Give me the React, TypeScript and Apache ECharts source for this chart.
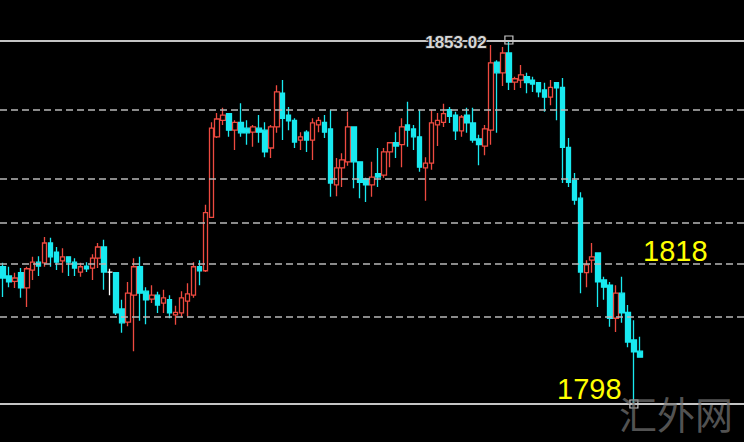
import React, { useEffect, useRef } from "react";
import * as echarts from "echarts";

// 125 slots on the time axis; the first 108 hold candles, the rest are empty space on the right
const categories: string[] = Array.from({ length: 125 }, (_, i) => `${i + 1}`);

// [open, close, low, high]
const candles: number[][] = [
  [1818.8, 1817.1, 1814.2, 1819.4],
  [1817.4, 1816.5, 1815.7, 1818.8],
  [1816.6, 1817.1, 1815.6, 1817.9],
  [1817.9, 1815.6, 1814.1, 1818.6],
  [1815.6, 1818.5, 1812.7, 1818.8],
  [1818.3, 1819.5, 1816.8, 1820.3],
  [1819.5, 1818.9, 1817.4, 1820.4],
  [1819.4, 1822.4, 1818.8, 1823.3],
  [1822.4, 1820.3, 1818.8, 1823.2],
  [1821.0, 1819.5, 1818.3, 1821.8],
  [1819.7, 1820.3, 1817.9, 1821.6],
  [1820.3, 1819.5, 1817.4, 1820.4],
  [1819.5, 1818.6, 1817.4, 1820.1],
  [1818.0, 1818.8, 1817.3, 1819.4],
  [1818.9, 1818.5, 1818.0, 1819.5],
  [1818.6, 1820.1, 1816.8, 1820.7],
  [1820.1, 1821.8, 1818.6, 1822.4],
  [1821.8, 1818.0, 1815.3, 1822.9],
  [1818.0, 1818.0, 1814.5, 1818.5],
  [1817.9, 1811.8, 1811.5, 1818.0],
  [1812.4, 1810.3, 1808.8, 1813.8],
  [1810.4, 1814.8, 1809.8, 1816.5],
  [1814.5, 1818.8, 1806.0, 1820.1],
  [1818.8, 1814.8, 1810.6, 1820.3],
  [1815.1, 1813.8, 1810.1, 1815.7],
  [1813.9, 1814.5, 1813.3, 1816.0],
  [1814.5, 1813.0, 1811.8, 1815.0],
  [1813.3, 1814.1, 1811.8, 1815.3],
  [1813.8, 1811.8, 1811.0, 1814.5],
  [1811.5, 1811.9, 1810.0, 1812.9],
  [1811.8, 1814.1, 1811.2, 1815.1],
  [1813.6, 1814.7, 1811.3, 1816.3],
  [1814.5, 1818.8, 1814.1, 1819.5],
  [1818.8, 1818.2, 1816.0, 1819.8],
  [1818.2, 1827.0, 1818.0, 1828.2],
  [1826.3, 1839.8, 1826.2, 1840.7],
  [1838.5, 1841.2, 1838.3, 1842.1],
  [1841.0, 1841.8, 1840.3, 1842.9],
  [1842.0, 1839.5, 1838.5, 1842.1],
  [1839.5, 1840.7, 1836.5, 1841.0],
  [1840.7, 1839.1, 1838.5, 1843.6],
  [1839.8, 1839.1, 1837.3, 1841.0],
  [1839.2, 1840.0, 1837.0, 1840.3],
  [1839.8, 1839.2, 1837.6, 1841.8],
  [1839.5, 1836.2, 1835.4, 1840.7],
  [1836.8, 1840.0, 1835.3, 1840.3],
  [1840.0, 1845.3, 1839.1, 1846.3],
  [1845.1, 1841.3, 1838.0, 1847.1],
  [1841.8, 1840.9, 1839.5, 1843.0],
  [1841.0, 1837.7, 1836.8, 1841.3],
  [1838.0, 1838.5, 1836.5, 1839.2],
  [1839.2, 1838.0, 1836.2, 1839.5],
  [1838.0, 1840.6, 1835.0, 1841.3],
  [1840.3, 1841.0, 1839.2, 1841.5],
  [1840.7, 1839.2, 1838.3, 1841.8],
  [1839.7, 1831.5, 1829.4, 1842.6],
  [1831.2, 1833.8, 1829.5, 1835.3],
  [1833.8, 1835.0, 1830.9, 1836.0],
  [1834.7, 1840.0, 1834.1, 1842.3],
  [1840.0, 1834.7, 1830.7, 1840.1],
  [1834.7, 1831.6, 1829.2, 1834.8],
  [1832.1, 1831.2, 1828.6, 1832.3],
  [1831.2, 1832.4, 1829.4, 1834.7],
  [1832.9, 1832.4, 1830.9, 1836.8],
  [1832.7, 1836.2, 1832.3, 1836.8],
  [1836.2, 1837.6, 1833.9, 1837.7],
  [1837.6, 1837.1, 1835.3, 1839.2],
  [1837.3, 1840.0, 1833.9, 1841.3],
  [1840.3, 1839.5, 1837.0, 1843.8],
  [1839.7, 1838.5, 1836.5, 1840.3],
  [1838.5, 1833.9, 1833.2, 1842.6],
  [1833.8, 1834.5, 1828.8, 1835.4],
  [1834.5, 1840.6, 1833.5, 1842.6],
  [1840.3, 1841.0, 1837.1, 1842.1],
  [1840.7, 1842.0, 1840.0, 1843.5],
  [1842.6, 1841.6, 1840.6, 1843.0],
  [1841.8, 1839.4, 1838.0, 1842.3],
  [1839.4, 1841.5, 1838.5, 1841.8],
  [1841.8, 1840.6, 1839.1, 1842.9],
  [1840.6, 1838.0, 1837.6, 1842.9],
  [1838.2, 1837.3, 1834.2, 1838.8],
  [1837.1, 1839.7, 1835.7, 1840.3],
  [1839.5, 1849.7, 1837.3, 1852.4],
  [1849.8, 1848.2, 1839.1, 1850.1],
  [1848.2, 1851.2, 1846.2, 1852.1],
  [1851.2, 1846.8, 1845.6, 1853.02],
  [1846.8, 1847.3, 1845.6, 1847.6],
  [1847.1, 1847.9, 1845.9, 1849.4],
  [1847.6, 1846.7, 1845.1, 1848.2],
  [1847.1, 1846.5, 1845.3, 1847.6],
  [1846.7, 1845.3, 1844.5, 1846.8],
  [1845.6, 1844.5, 1842.3, 1846.7],
  [1844.5, 1846.0, 1843.3, 1847.1],
  [1846.7, 1845.9, 1841.0, 1846.8],
  [1846.0, 1836.9, 1831.5, 1847.4],
  [1836.9, 1831.6, 1830.9, 1838.3],
  [1831.9, 1828.9, 1828.2, 1833.0],
  [1829.2, 1818.0, 1814.8, 1830.1],
  [1817.9, 1819.1, 1815.7, 1819.8],
  [1819.8, 1820.3, 1817.9, 1822.4],
  [1820.9, 1816.5, 1812.7, 1821.0],
  [1816.8, 1815.7, 1813.8, 1817.3],
  [1816.0, 1811.0, 1809.7, 1816.5],
  [1811.0, 1814.8, 1808.9, 1816.0],
  [1814.8, 1811.8, 1810.3, 1817.3],
  [1811.9, 1807.4, 1806.6, 1813.0],
  [1807.7, 1805.9, 1798.0, 1810.7],
  [1806.0, 1805.1, 1805.0, 1808.2],
];

// horizontal levels
const dashedLevels: number[] = [1842.56, 1832.1, 1825.51, 1819.21, 1811.18];
const highValue = 1853.02;
const lowValue = 1798;
const highIndex = 85;
const lowIndex = 106;

const annotations = [
  { text: "1818", value: 1821.2, x: 643 },
  { text: "1798", value: 1800.3, x: 557 },
];

const UP = "#ee4a40";
const DOWN = "#19e9f0";

export default function App() {
  const ref = useRef<HTMLDivElement>(null);

  useEffect(() => {
    if (!ref.current) return;
    const chart = echarts.init(ref.current, undefined, { renderer: "svg" });

    const option: any = {
      animation: false,
      backgroundColor: "#000000",
      grid: { left: -2.5, top: 41, width: 750, height: 363 },
      xAxis: {
        type: "category",
        data: categories,
        show: false,
        boundaryGap: true,
      },
      yAxis: {
        type: "value",
        min: lowValue,
        max: highValue,
        show: false,
        splitLine: { show: false },
      },
      series: [
        {
          type: "line",
          data: [],
          z: 1,
          silent: true,
          markLine: {
            silent: true,
            symbol: ["none", "none"],
            label: { show: false },
            data: [
              ...dashedLevels.map((v) => ({
                yAxis: v,
                lineStyle: { color: "#b8b8b8", width: 1.6, type: [7, 4] },
              })),
              { yAxis: highValue, lineStyle: { color: "#c4c4c4", width: 2, type: "solid" } },
              { yAxis: lowValue, lineStyle: { color: "#c4c4c4", width: 2, type: "solid" } },
            ],
          },
        },
        {
          type: "candlestick",
          z: 3,
          data: candles,
          barWidth: 5,
          itemStyle: {
            color: "#000000",
            color0: DOWN,
            borderColor: UP,
            borderColor0: DOWN,
            borderColorDoji: "#ffffff",
            borderWidth: 1.3,
          },
        },
      ],
    };
    chart.setOption(option);

    const toPx = (idx: number, v: number) => chart.convertToPixel({ gridIndex: 0 }, [idx, v]) as number[];
    const hp = toPx(highIndex, highValue);
    const lp = toPx(lowIndex, lowValue);

    chart.setOption({
      graphic: [
        {
          type: "text",
          z: 10,
          x: hp[0] - 53,
          y: hp[1] + 1,
          style: {
            text: highValue.toFixed(2),
            fill: "#d6d6d6",
            font: 'bold 17px "Liberation Sans", Arial, sans-serif',
            align: "center",
            verticalAlign: "middle",
            stroke: "#1a1a1a",
            lineWidth: 2,
          },
        },
        {
          type: "rect",
          z: 10,
          shape: { x: hp[0] - 4, y: hp[1] - 5, width: 8, height: 8 },
          style: { fill: "none", stroke: "#c8c8c8", lineWidth: 1.2 },
        },
        {
          type: "rect",
          z: 10,
          shape: { x: lp[0] - 4, y: lp[1] - 4, width: 8, height: 8 },
          style: { fill: "none", stroke: "#c8c8c8", lineWidth: 1.2 },
        },
        ...annotations.map((a) => {
          const p = toPx(0, a.value);
          return {
            type: "text",
            z: 10,
            x: a.x,
            y: p[1],
            style: {
              text: a.text,
              fill: "#ffff00",
              font: '29px "Liberation Sans", Arial, sans-serif',
              align: "left",
              verticalAlign: "middle",
            },
          };
        }),
        {
          type: "text",
          z: 11,
          x: 676,
          y: 412,
          style: {
            text: "汇外网",
            fill: "rgba(120,120,120,0.7)",
            font: '38px "Noto Sans CJK SC", sans-serif',
            align: "center",
            verticalAlign: "middle",
          },
        },
      ],
    });

    return () => chart.dispose();
  }, []);

  return (
    <div
      ref={ref}
      style={{ position: "fixed", left: 0, top: 0, width: 744, height: 442, background: "#000" }}
    />
  );
}
